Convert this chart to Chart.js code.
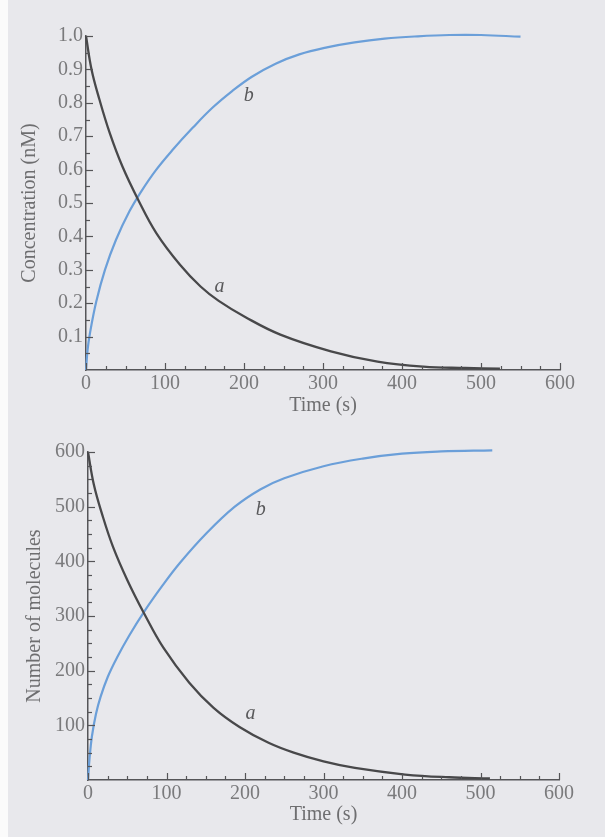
<!DOCTYPE html>
<html>
<head>
<meta charset="utf-8">
<script src="https://cdn.jsdelivr.net/npm/chart.js@4.4.1/dist/chart.umd.min.js"></script>
<style>
  html, body { margin: 0; padding: 0; }
  body { width: 605px; height: 837px; background: #e8e8ec; position: relative; overflow: hidden; }
  #strip { position: absolute; left: 0; top: 0; width: 8px; height: 837px; background: #fbfbfb; }
  .box { position: absolute; left: 0; width: 605px; }
  #c1box { top: 0; height: 420px; }
  #c2box { top: 420px; height: 417px; }
</style>
</head>
<body>
<div id="strip"></div>
<div class="box" id="c1box"><canvas id="c1" width="605" height="420"></canvas></div>
<div class="box" id="c2box"><canvas id="c2" width="605" height="417"></canvas></div>
<script>
// ---------- Top chart: concentration ----------
const concTimeA = [0, 7, 17, 30, 46, 66, 89, 119, 145, 168, 202, 246, 310, 369, 427, 480, 524];
const concA     = [1.0, 0.90, 0.81, 0.71, 0.61, 0.51, 0.41, 0.315, 0.25, 0.207, 0.158, 0.106, 0.056, 0.025, 0.010, 0.006, 0.004];
const concTimeB = [0, 2, 5, 13, 24, 38, 55, 70, 89, 110, 135, 160, 185, 210, 240, 270, 305, 340, 378, 420, 460, 500, 550];
const concB     = [0, 0.06, 0.11, 0.205, 0.30, 0.39, 0.475, 0.535, 0.60, 0.66, 0.725, 0.785, 0.835, 0.878, 0.917, 0.945, 0.966, 0.981, 0.992, 0.999, 1.003, 1.003, 0.998];
const concYTicks = [0.1, 0.2, 0.3, 0.4, 0.5, 0.6, 0.7, 0.8, 0.9, 1.0];
const concYMinor = [0.05, 0.15, 0.25, 0.35, 0.45, 0.55, 0.65, 0.75, 0.85, 0.95];
const concLabels = [{ text: 'b', x: 206, y: 0.82 }, { text: 'a', x: 169, y: 0.25 }];

// ---------- Bottom chart: number of molecules ----------
const molTimeA = [0, 7.5, 18, 32, 50, 71, 96, 129, 160, 193, 230, 262, 300, 340, 404, 460, 512];
const molA     = [600, 540, 486, 426, 366, 306, 242, 178, 132, 97, 68, 50, 34, 22, 10, 5, 3];
const molTimeB = [0, 2, 5, 10, 16, 25, 37, 52, 72, 95, 117, 150, 187, 220, 250, 300, 350, 400, 450, 515];
const molB     = [0, 40, 80, 120, 152, 188, 224, 263, 309, 356, 397, 450, 500, 532, 552, 574, 588, 597, 601, 603];
const molYTicks = [100, 200, 300, 400, 500, 600];
const molYMinor = [25, 50, 75, 125, 150, 175, 225, 250, 275, 325, 350, 375, 425, 450, 475, 525, 550, 575];
const molLabels = [{ text: 'b', x: 220, y: 494 }, { text: 'a', x: 207, y: 121 }];

// ---------- Shared time axis ----------
const timeTicks = [0, 100, 200, 300, 400, 500, 600];
const timeMinor = [25, 50, 75, 125, 150, 175, 225, 250, 275, 325, 350, 375, 425, 450, 475, 525, 550, 575];

const SERIF = "'Liberation Serif', 'DejaVu Serif', serif";
const AXIS_COLOR = '#555558';
const TEXT_COLOR = '#7a7a7c';
const A_COLOR = '#48484a';
const B_COLOR = '#6b9fd9';

function pts(xs, ys) { return xs.map((x, i) => ({ x: x, y: ys[i] })); }

const inwardTicks = {
  id: 'inwardTicks',
  afterDatasetsDraw(chart, args, opts) {
    const ctx = chart.ctx;
    const xs = chart.scales.x, ys = chart.scales.y;
    const area = chart.chartArea;
    ctx.save();
    ctx.strokeStyle = AXIS_COLOR;
    ctx.lineWidth = 1.2;
    const drawX = (vals, len) => vals.forEach(v => {
      const p = Math.round(xs.getPixelForValue(v)) + 0.5;
      ctx.beginPath(); ctx.moveTo(p, area.bottom); ctx.lineTo(p, area.bottom - len); ctx.stroke();
    });
    const drawY = (vals, len) => vals.forEach(v => {
      const p = Math.round(ys.getPixelForValue(v)) + 0.5;
      ctx.beginPath(); ctx.moveTo(area.left, p); ctx.lineTo(area.left + len, p); ctx.stroke();
    });
    drawX(opts.xMajor, 7); drawX(opts.xMinor, 4);
    drawY(opts.yMajor, 7); drawY(opts.yMinor, 4);
    ctx.fillStyle = '#59595b';
    ctx.font = "italic 20px " + SERIF;
    ctx.textAlign = 'center';
    ctx.textBaseline = 'middle';
    opts.labels.forEach(l => ctx.fillText(l.text, xs.getPixelForValue(l.x), ys.getPixelForValue(l.y)));
    ctx.restore();
  }
};

function makeChart(id, cfg) {
  return new Chart(document.getElementById(id), {
    type: 'line',
    data: {
      datasets: [
        { data: pts(cfg.tA, cfg.a), borderColor: A_COLOR, borderWidth: 2.3, pointRadius: 0, fill: false, clip: false, tension: 0.4 },
        { data: pts(cfg.tB, cfg.b), borderColor: B_COLOR, borderWidth: 2.2, pointRadius: 0, fill: false, clip: false, tension: 0.4 }
      ]
    },
    options: {
      responsive: false,
      animation: false,
      events: [],
      layout: { padding: cfg.padding },
      plugins: {
        legend: { display: false },
        tooltip: { enabled: false },
        inwardTicks: { xMajor: timeTicks, xMinor: timeMinor, yMajor: cfg.yTicks, yMinor: cfg.yMinor, labels: cfg.labels }
      },
      scales: {
        x: {
          type: 'linear', min: 0, max: 600,
          afterBuildTicks: s => { s.ticks = timeTicks.map(v => ({ value: v })); },
          afterFit: s => { s.height = cfg.xHeight; },
          grid: { display: false, drawTicks: false },
          border: { display: true, color: AXIS_COLOR, width: 1.5 },
          ticks: { color: TEXT_COLOR, font: { family: SERIF, size: 20 }, padding: 2, maxRotation: 0, autoSkip: false, callback: v => String(v) },
          title: { display: true, text: 'Time (s)', color: '#6e6e70', font: { family: SERIF, size: 20 }, padding: { top: 0, bottom: 0 } }
        },
        y: {
          type: 'linear', min: 0, max: cfg.yMax,
          afterBuildTicks: s => { s.ticks = cfg.yTicks.map(v => ({ value: v })); },
          afterFit: s => { s.width = cfg.yWidth; },
          grid: { display: false, drawTicks: false },
          border: { display: true, color: AXIS_COLOR, width: 1.5 },
          ticks: { color: TEXT_COLOR, font: { family: SERIF, size: 20 }, padding: 3, autoSkip: false, callback: cfg.yFmt },
          title: { display: true, text: cfg.yTitle, color: '#6e6e70', font: { family: SERIF, size: 20 }, padding: { top: 0, bottom: 0 } }
        }
      }
    },
    plugins: [inwardTicks]
  });
}

makeChart('c1', {
  tA: concTimeA, a: concA, tB: concTimeB, b: concB,
  yTicks: concYTicks, yMinor: concYMinor, labels: concLabels, yMax: 1.0,
  yFmt: v => v.toFixed(1), yTitle: 'Concentration (nM)',
  padding: { left: 18, top: 36, right: 45, bottom: 2 }, yWidth: 68, xHeight: 48
});

makeChart('c2', {
  tA: molTimeA, a: molA, tB: molTimeB, b: molB,
  yTicks: molYTicks, yMinor: molYMinor, labels: molLabels, yMax: 600,
  yFmt: v => String(v), yTitle: 'Number of molecules',
  padding: { left: 23, top: 32, right: 46, bottom: 10 }, yWidth: 65, xHeight: 47
});
</script>
</body>
</html>
